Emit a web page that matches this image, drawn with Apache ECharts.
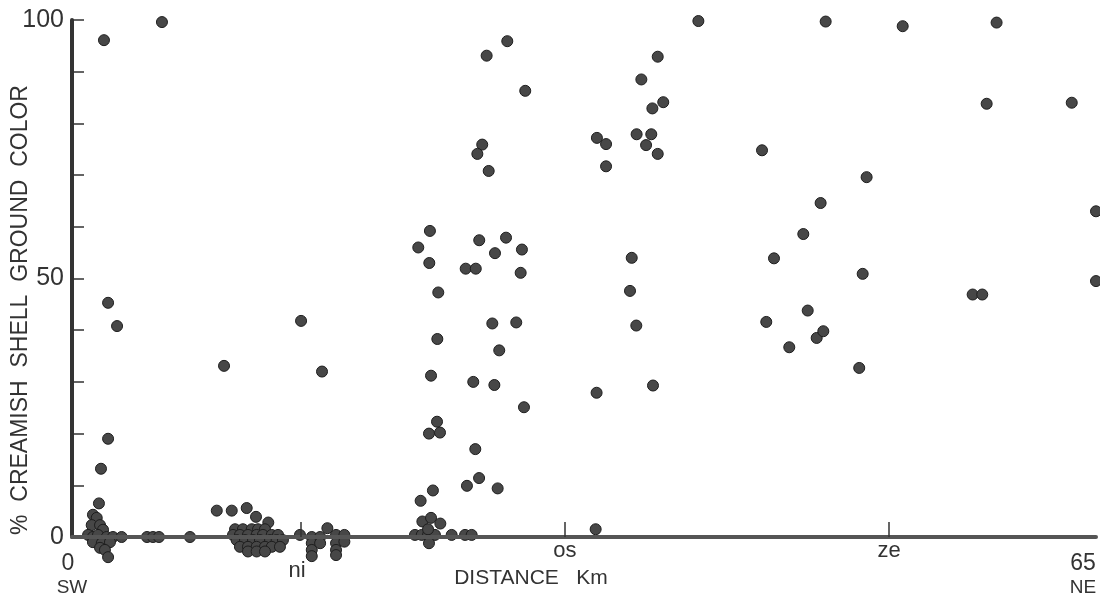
<!DOCTYPE html>
<html>
<head>
<meta charset="utf-8">
<script src="https://cdn.jsdelivr.net/npm/echarts@6/dist/echarts.min.js"></script>
<style>html,body{margin:0;padding:0;background:#fff}#c{width:1100px;height:600px}</style>
</head>
<body>
<div id="c"></div>
<script>
// Distance along transect (km) and % creamish shell ground colour
const distanceKm = [
  2.03,2.29,2.86,2.29,1.84,1.71,5.71,
  1.33,1.57,1.25,1.78,1.97,1.02,1.33,1.65,2.20,2.60,3.15,1.33,1.89,2.41,1.78,2.09,2.29,
  4.76,5.14,5.52,7.49,
  9.65,9.19,10.14,11.09,11.68,12.46,
  10.35,10.85,11.41,11.81,12.25,
  10.22,10.66,11.17,11.72,12.12,12.68,13.08,
  10.45,10.98,11.49,11.93,12.57,12.99,13.39,
  10.66,11.17,11.72,12.25,12.68,13.20,
  11.17,11.72,12.25,
  14.47,15.22,15.22,15.22,15.22,15.75,15.75,16.21,16.76,16.76,16.76,16.76,17.29,17.29,
  14.54,15.87,
  27.63,26.32,28.77,26.04,25.73,26.45,22.72,21.98,22.68,25.85,27.55,28.56,26.85,24.99,25.63,28.48,
  23.25,26.68,28.20,23.19,27.12,22.79,25.47,26.81,28.69,23.17,22.66,23.36,25.60,25.84,25.07,27.02,
  22.91,22.13,22.24,22.79,23.38,
  21.77,22.20,22.60,23.04,22.60,22.66,24.10,24.95,25.37,
  33.24,33.30,33.32,33.90,33.90,35.42,35.53,35.82,35.84,36.44,36.77,37.18,36.84,37.53,36.14,37.18,36.88,
  39.76,43.80,44.07,44.56,45.53,46.42,46.70,47.27,47.52,47.69,47.84,49.97,50.19,50.44,52.73,
  57.17,57.78,58.06,58.69,63.46,65.0,65.0
];
const creamishPct = [
  96.1,45.3,40.8,19.0,13.2,6.5,99.6,
  4.3,3.7,2.3,2.3,1.4,0.4,0,0.4,0,0,0,-1.0,-1.2,-1.0,-2.1,-2.5,-3.9,
  0,0,0,0,
  33.1,5.1,5.1,5.6,3.9,2.8,
  1.5,1.5,1.5,1.5,1.5,
  0.4,0.4,0.4,0.4,0.4,0.4,0.4,
  -0.6,-0.6,-0.6,-0.6,-0.6,-0.6,-0.6,
  -1.9,-1.9,-1.9,-1.9,-1.9,-1.9,
  -2.8,-2.8,-2.8,
  0.4,0,-1.2,-2.5,-3.7,0,-1.2,1.7,0.4,-1.2,-2.5,-3.5,0.4,-0.9,
  41.8,32.0,
  95.9,93.1,86.3,75.9,74.1,70.8,59.2,56.0,53.0,57.4,57.9,55.6,54.9,51.9,51.9,51.1,
  47.3,41.3,41.5,38.3,36.1,31.2,30.0,29.4,25.1,22.3,20.0,20.2,17.0,11.4,9.9,9.4,
  9.0,7.0,3.0,3.7,2.6,
  0.4,0.4,0.4,0.4,1.5,-1.2,0.4,0.4,0.4,
  1.5,27.9,77.2,76.0,71.7,47.6,54.0,40.9,77.9,75.8,77.9,74.1,82.9,84.1,88.5,92.9,29.3,
  99.8,74.8,41.6,53.9,36.7,58.6,43.8,38.5,64.6,39.8,99.7,32.7,50.9,69.6,98.8,
  46.9,46.9,83.8,99.5,84.0,63.0,49.5
];
const xTickValues = [14.54, 31.29, 51.86];
const xTickLabels = ['ni', 'os', 'ze'];
const yLabelValues = [0, 50, 100];

const points = distanceKm.map((d, i) => [d, creamishPct[i]]);
const FONT = 'Liberation Sans';
const chart = echarts.init(document.getElementById('c'), null, {renderer: 'canvas'});
chart.setOption({
  animation: false,
  backgroundColor: '#fff',
  grid: {left: 72, right: 4, top: 20, bottom: 63, containLabel: false},
  xAxis: {
    type: 'value', min: 0, max: 65,
    splitLine: {show: false},
    axisLine: {onZero: true, lineStyle: {color: '#555', width: 4}},
    axisTick: {show: true, inside: true, length: 15, customValues: xTickValues,
      lineStyle: {color: '#333', width: 1.5}},
    axisLabel: {show: true, customValues: xTickValues, margin: 3,
      fontFamily: FONT, fontSize: 22, color: '#333',
      formatter: v => {
        const i = xTickValues.findIndex(t => Math.abs(t - v) < 1e-6);
        if (i < 0) return '';
        return i === 0 ? '{lo|' + xTickLabels[i] + '}' : xTickLabels[i];
      },
      rich: {lo: {fontFamily: FONT, fontSize: 22, color: '#333', padding: [20, 8, 0, 0]}}
    },
    z: 4
  },
  yAxis: {
    type: 'value', min: 0, max: 100, interval: 10,
    splitLine: {show: false},
    axisLine: {show: true, lineStyle: {color: '#333', width: 4}},
    axisTick: {show: true, inside: true, length: 12, lineStyle: {color: '#333', width: 1.5}},
    axisLabel: {margin: 8, fontFamily: FONT, fontSize: 25, color: '#333',
      formatter: v => yLabelValues.indexOf(v) >= 0 ? String(v) : ''}
  },
  graphic: [
    {type: 'text', x: 21, y: 310, rotation: Math.PI / 2,
      style: {text: '%  CREAMISH  SHELL  GROUND  COLOR', fill: '#333', font: '23px "Liberation Sans"',
        textAlign: 'center', textVerticalAlign: 'middle'}},
    {type: 'text', x: 531, y: 578,
      style: {text: 'DISTANCE   Km', fill: '#333', font: '21px "Liberation Sans"',
        textAlign: 'center', textVerticalAlign: 'middle'}},
    {type: 'text', x: 68, y: 564,
      style: {text: '0', fill: '#333', font: '23px "Liberation Sans"', textAlign: 'center', textVerticalAlign: 'middle'}},
    {type: 'text', x: 72, y: 588,
      style: {text: 'SW', fill: '#333', font: '19px "Liberation Sans"', textAlign: 'center', textVerticalAlign: 'middle'}},
    {type: 'text', x: 1083, y: 564,
      style: {text: '65', fill: '#333', font: '23px "Liberation Sans"', textAlign: 'center', textVerticalAlign: 'middle'}},
    {type: 'text', x: 1083, y: 588,
      style: {text: 'NE', fill: '#333', font: '19px "Liberation Sans"', textAlign: 'center', textVerticalAlign: 'middle'}}
  ],
  series: [{
    type: 'scatter',
    data: points,
    clip: false,
    symbol: 'circle',
    symbolSize: 11,
    itemStyle: {color: '#474747', borderColor: '#1e1e1e', borderWidth: 1, opacity: 1},
    z: 3
  }]
});
</script>
</body>
</html>
